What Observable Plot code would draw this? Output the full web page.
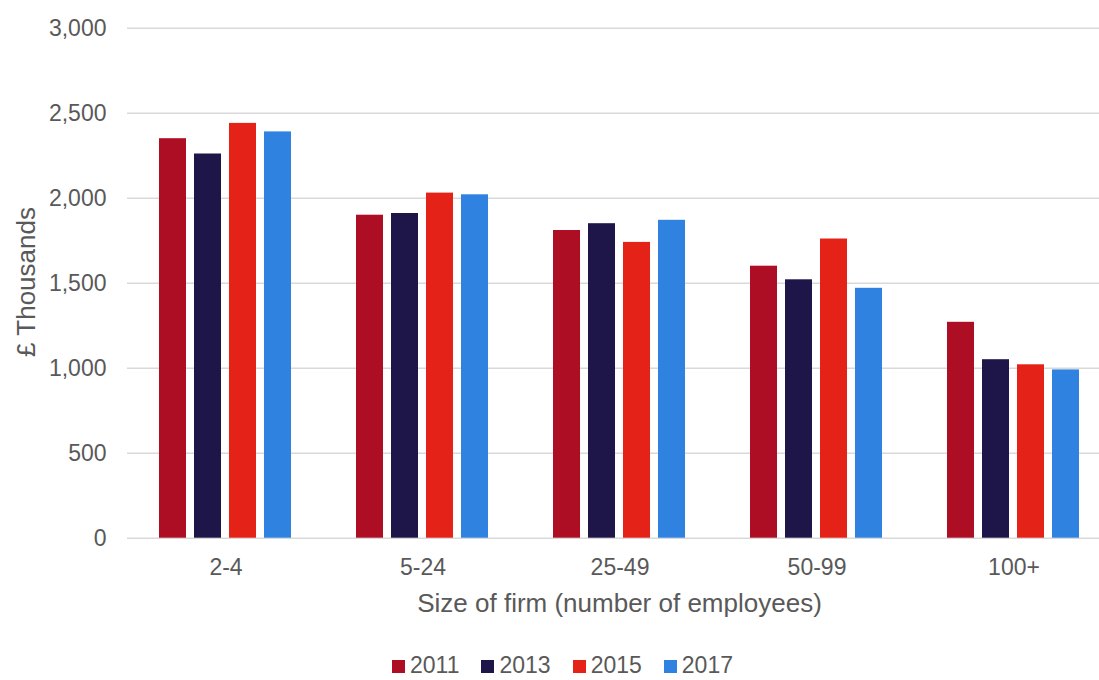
<!DOCTYPE html>
<html>
<head>
<meta charset="utf-8">
<script src="https://cdn.jsdelivr.net/npm/d3@7"></script>
<script src="https://cdn.jsdelivr.net/npm/@observablehq/plot@0.6"></script>
<style>
  html, body { margin: 0; padding: 0; background: #ffffff; }
  #wrap { position: relative; width: 1099px; height: 680px; overflow: hidden; font-family: "Liberation Sans", Arial, sans-serif; color: #595959; }
  #xtitle { width: 985px; padding-left: 127px; text-align: center; font-size: 26px; line-height: 30px; white-space: nowrap; }
  #legend { margin-top: 34px; padding-left: 392px; display: flex; align-items: center; font-size: 23px; line-height: 26px; }
  .item { display: flex; align-items: center; margin-right: 22px; }
  .sw { width: 13px; height: 13px; margin-right: 5px; margin-top: 2px; }
  #ytitle { position: absolute; left: 25.5px; top: 282px; width: 0; height: 0; }
  #ytitle span { position: absolute; left: 0; top: 0; transform: translate(-50%, -50%) rotate(-90deg); white-space: nowrap; font-size: 26px; line-height: 26px; }
</style>
</head>
<body>
<div id="wrap">
  <div id="chart"></div>
  <div id="xtitle"></div>
  <div id="legend"></div>
  <div id="ytitle"><span></span></div>
</div>
<script>
const groups = ["2-4", "5-24", "25-49", "50-99", "100+"];
const years = ["2011", "2013", "2015", "2017"];
const values2011 = [2350, 1900, 1810, 1600, 1270];
const values2013 = [2260, 1910, 1850, 1520, 1050];
const values2015 = [2440, 2030, 1740, 1760, 1020];
const values2017 = [2390, 2020, 1870, 1470, 990];
const colors = ["#ae0e24", "#1e1548", "#e42218", "#3082e1"];
const yTicks = [0, 500, 1000, 1500, 2000, 2500, 3000];
const xTitle = "Size of firm (number of employees)";
const yTitle = "£ Thousands";

const series = [values2011, values2013, values2015, values2017];
const table = [];
groups.forEach((g, i) => {
  years.forEach((yr, j) => {
    table.push({group: g, year: yr, value: series[j][i]});
  });
});

const chart = Plot.plot({
  width: 1112,
  height: 588,
  marginLeft: 127,
  marginRight: 0,
  marginTop: 27.7,
  marginBottom: 50.3,
  style: {
    fontFamily: "'Liberation Sans', Arial, sans-serif",
    fontSize: "23px",
    color: "#595959",
    background: "#ffffff",
    maxWidth: "none"
  },
  fx: {domain: groups, padding: 0, label: null, axis: "bottom", tickSize: 0, tickPadding: 20},
  x: {domain: years, paddingInner: 0.215, paddingOuter: 0.869, axis: null},
  y: {domain: [0, 3000], ticks: yTicks, tickFormat: d3.format(","), tickSize: 0, tickPadding: 21, label: null},
  color: {domain: years, range: colors},
  marks: [
    Plot.ruleY(yTicks, {stroke: "#d9d9d9", strokeWidth: 1.5}),
    Plot.barY(table, {fx: "group", x: "year", y: "value", fill: "year"})
  ]
});
document.getElementById("chart").appendChild(chart);

document.getElementById("xtitle").textContent = xTitle;
document.querySelector("#ytitle span").textContent = yTitle;

const legend = document.getElementById("legend");
years.forEach((yr, j) => {
  const item = document.createElement("div");
  item.className = "item";
  const sw = document.createElement("div");
  sw.className = "sw";
  sw.style.background = colors[j];
  const lab = document.createElement("span");
  lab.textContent = yr;
  item.appendChild(sw);
  item.appendChild(lab);
  legend.appendChild(item);
});
</script>
</body>
</html>
